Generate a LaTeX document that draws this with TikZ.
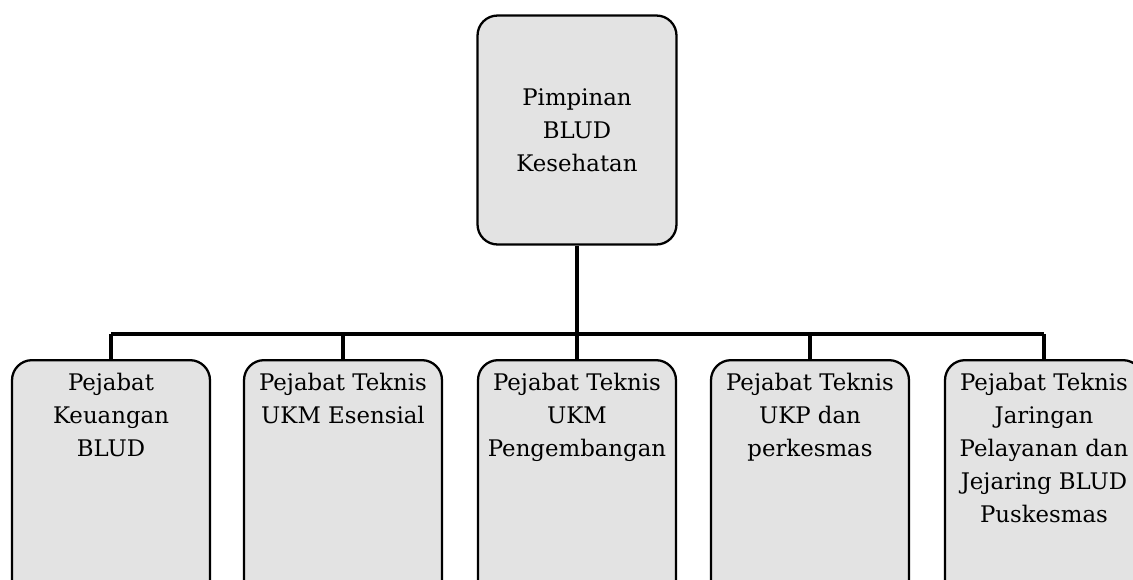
\documentclass[tikz,border=0pt]{standalone}
\usepackage{fontspec}
\setmainfont{DejaVu Serif}
\begin{document}
\begin{tikzpicture}
		[x=0.02cm,y=-0.02cm,
		orgbox/.style={draw,line width=1.3pt,rounded corners=0.4cm,fill=gray!22},
		chiefbox/.style={orgbox,minimum width=3.98cm,minimum height=4.58cm,align=center,font=\fontsize{13}{18.8}\selectfont},
		unitbox/.style={orgbox,anchor=north,minimum width=3.96cm,minimum height=4.9cm},
		unittext/.style={anchor=north,align=center,inner sep=0pt,font=\fontsize{13}{18.8}\selectfont},
		link/.style={line width=2.4pt}]
		\useasboundingbox (0,0) rectangle (1133,579);
		\clip (0,0) rectangle (1133,579);
		\node[chiefbox] (chief) at (577,130) {Pimpinan\\BLUD\\Kesehatan};
		\coordinate (bar) at (577,334);
		\foreach \x/\name/\txt in {111/keu/{Pejabat\\Keuangan\\BLUD},
			343/esen/{Pejabat Teknis\\UKM Esensial},
			577/peng/{Pejabat Teknis\\UKM\\Pengembangan},
			810/ukp/{Pejabat Teknis\\UKP dan\\perkesmas},
			1044/jar/{Pejabat Teknis\\Jaringan\\Pelayanan dan\\Jejaring BLUD\\Puskesmas}}
		{
			\node[unitbox] (\name) at (\x,359) {};
			\node[unittext] (\name-t) at ([yshift=-0.28cm]\name.north) {\txt};
			\draw[link] (\name.north) -- (\name.north |- bar);
		}
		\draw[link] (chief.south) -- (bar);
		\draw[link] (keu.north |- bar) -- (jar.north |- bar);
	\end{tikzpicture}
\end{document}
